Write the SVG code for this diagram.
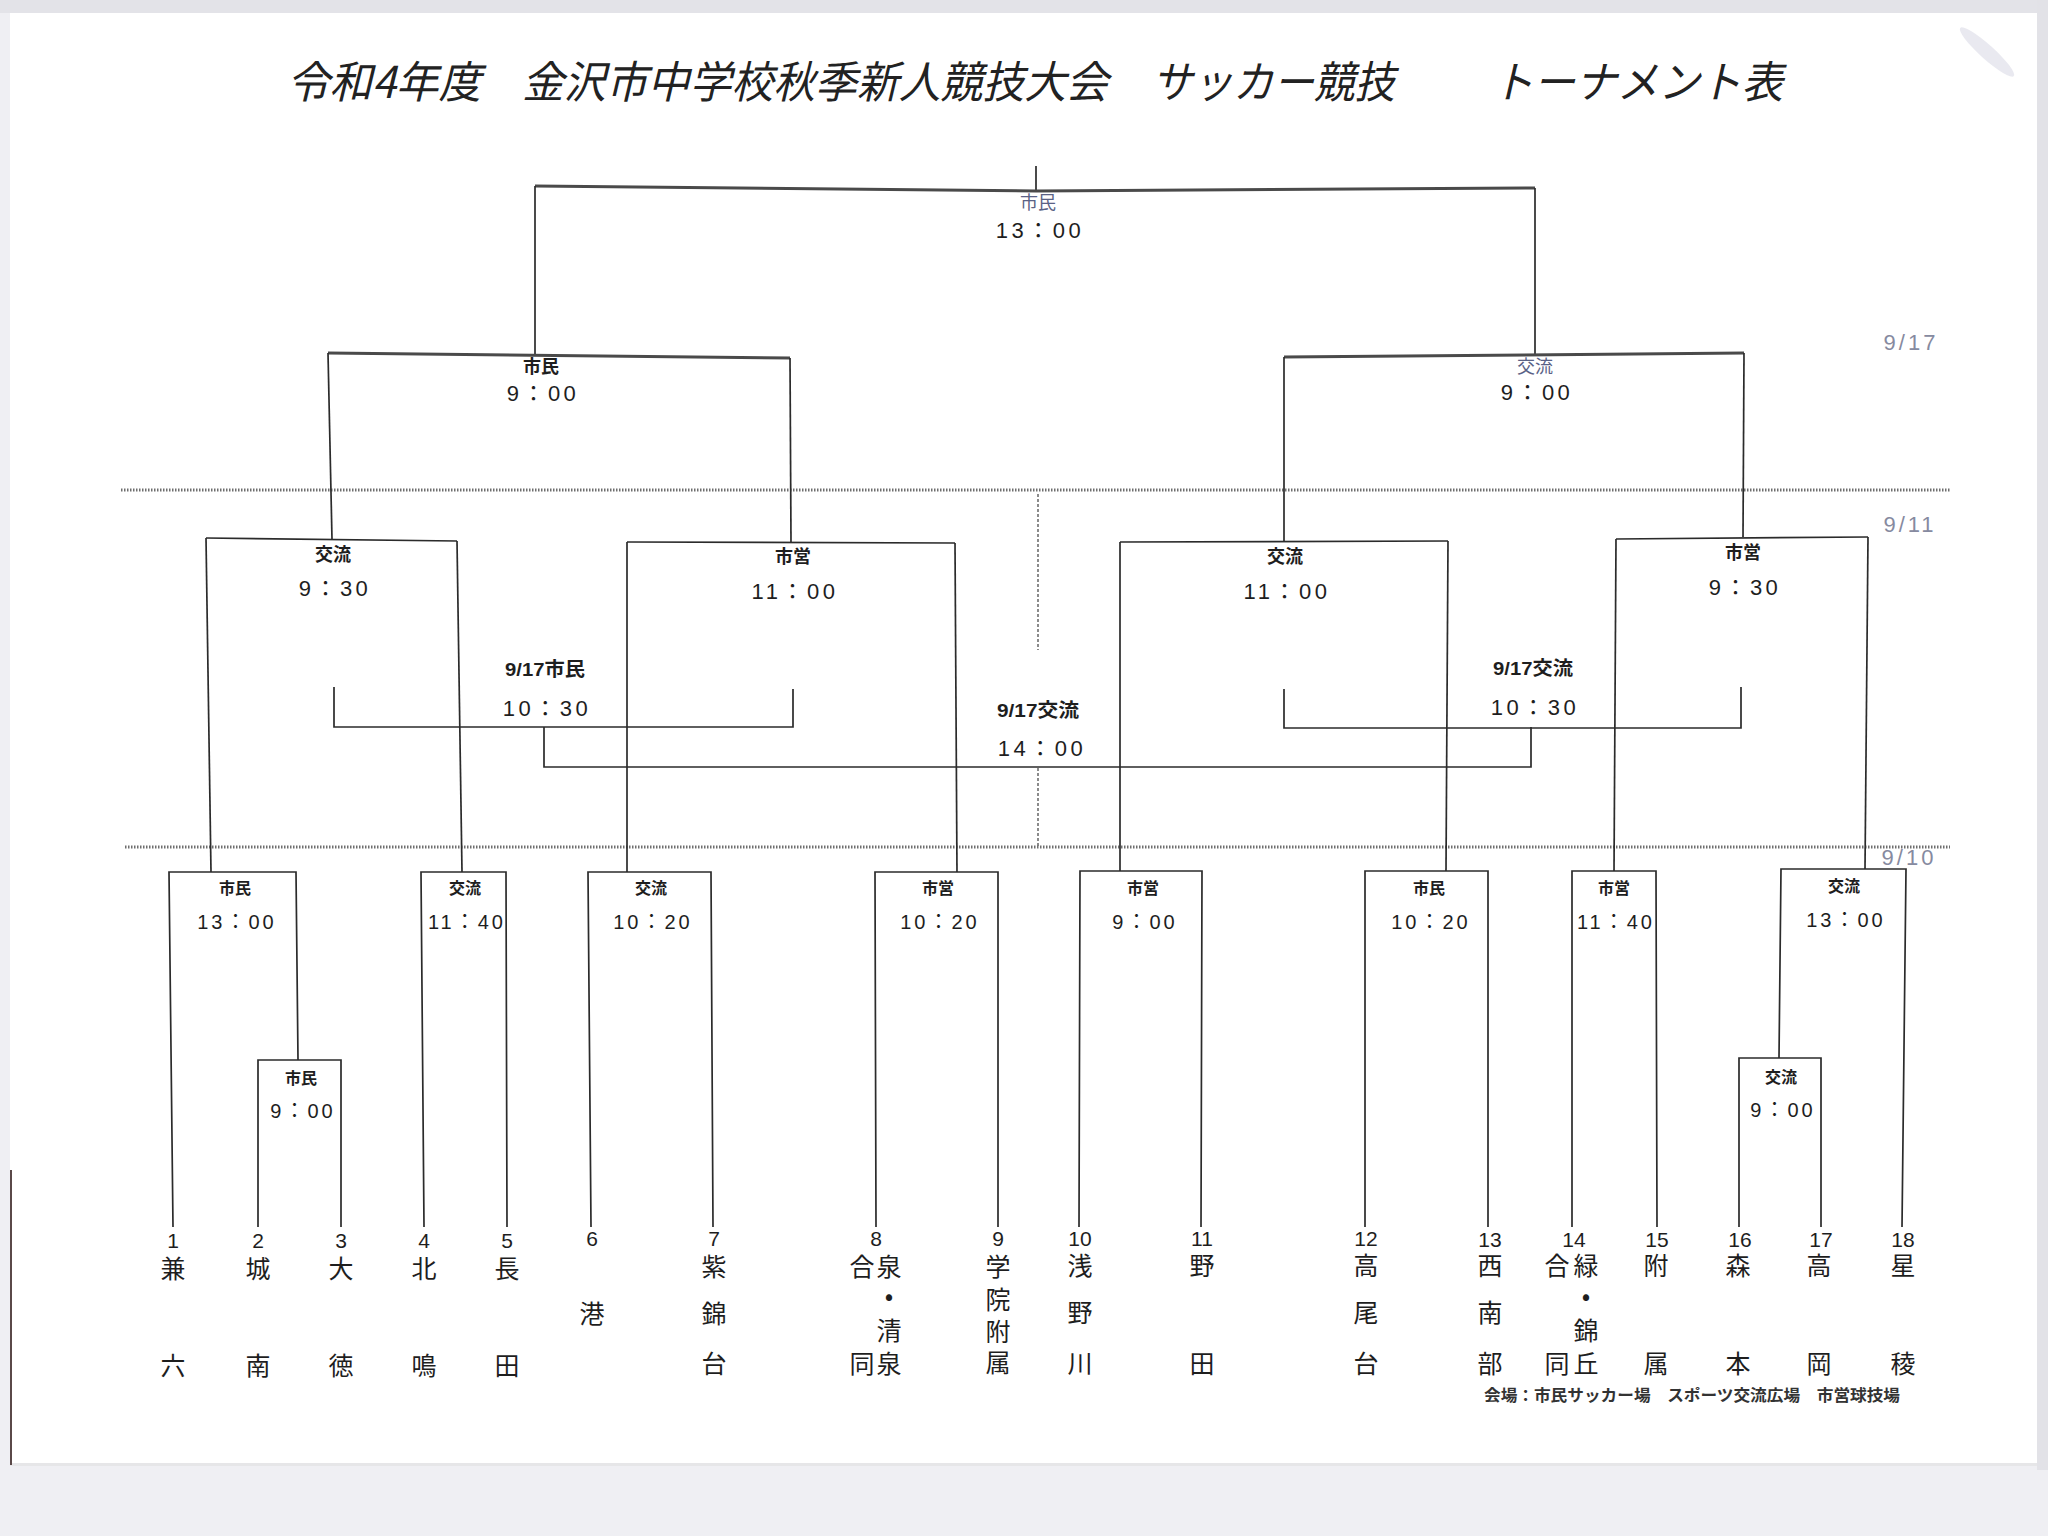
<svg xmlns="http://www.w3.org/2000/svg" width="2048" height="1536" viewBox="0 0 2048 1536">
<defs>
<style>
.ln{fill:none;stroke:#2b2b2b;stroke-width:1.7;stroke-linejoin:miter}
.hv{fill:none;stroke:#4a4a4a;stroke-width:3}
.dot{fill:none;stroke:#6e6e6e;stroke-width:3;stroke-dasharray:1.5 1.5}
.vd{fill:none;stroke:#666;stroke-width:1.5;stroke-dasharray:3 2}
text{font-family:"Liberation Sans","Noto Sans CJK JP",sans-serif;fill:#1e1e1e}
.ttl{font-family:"Noto Sans CJK JP",sans-serif;font-size:44px;font-style:italic;fill:#222}
.v1{font-family:"Noto Sans CJK JP",sans-serif;font-size:16px;font-weight:bold;text-anchor:middle}
.v2{font-family:"Noto Sans CJK JP",sans-serif;font-size:18px;font-weight:bold;text-anchor:middle}
.vb{fill:#5a6286;font-weight:normal}
.t1{font-size:20px;letter-spacing:3px;text-anchor:middle}
.t2{font-size:22px;letter-spacing:3.5px;text-anchor:middle}
.cs{font-family:"Liberation Sans","Noto Sans CJK JP",sans-serif;font-size:19px;font-weight:bold;text-anchor:middle}
.dt{font-size:22px;letter-spacing:3px;fill:#868aa0;text-anchor:middle}
.num{font-size:21px;text-anchor:middle}
.nm{font-family:"Noto Sans CJK JP",sans-serif;font-size:25px;text-anchor:middle}
.ft{font-family:"Noto Sans CJK JP",sans-serif;font-size:16px;font-weight:bold;fill:#333}
</style>
</defs>
<rect x="0" y="0" width="2048" height="1536" fill="#efeff3"/>
<rect x="0" y="0" width="2048" height="13" fill="#e3e3e8"/>
<rect x="2037" y="0" width="11" height="1470" fill="#e2e2e7"/>
<rect x="10" y="13" width="2027" height="1452" fill="#ffffff"/>
<rect x="10" y="1463" width="2027" height="3" fill="#e6e6e8"/>
<line x1="11" y1="1170" x2="11" y2="1465" stroke="#5a4848" stroke-width="2"/>
<ellipse cx="1987" cy="52" rx="36" ry="7" transform="rotate(42 1987 52)" fill="#e4e4ec" opacity="0.8"/>

<g id="title">
<text class="ttl" x="287" y="98" textLength="194" lengthAdjust="spacingAndGlyphs">令和4年度</text>
<text class="ttl" x="522" y="98" textLength="586" lengthAdjust="spacingAndGlyphs">金沢市中学校秋季新人競技大会</text>
<text class="ttl" x="1152" y="98" textLength="243" lengthAdjust="spacingAndGlyphs">サッカー競技</text>
<text class="ttl" x="1492" y="98" textLength="291" lengthAdjust="spacingAndGlyphs">トーナメント表</text>
</g>

<g id="dates">
<text class="dt" x="1911" y="350">9/17</text>
<text class="dt" x="1910" y="532">9/11</text>
<text class="dt" x="1909" y="865">9/10</text>
</g>

<g id="connectors">
<path class="dot" d="M121,490 H1950"/>
<path class="dot" d="M125,847 H1950"/>
<path class="vd" d="M1038,494 V650"/>
<path class="vd" d="M1038,768 V847"/>
<path class="ln" d="M1036,166 V190"/>
<path class="hv" d="M535,186 L1036,191 L1535,188"/>
<path class="ln" d="M535,186 V355"/>
<path class="ln" d="M1535,188 V355"/>
<path class="hv" d="M328,353 L790,358"/>
<path class="ln" d="M328,353 L332,539"/>
<path class="ln" d="M790,358 L791,542"/>
<path class="hv" d="M1284,357 L1744,353"/>
<path class="ln" d="M1284,357 V542"/>
<path class="ln" d="M1744,353 L1743,537"/>
<path class="ln" d="M206,538 L457,541"/>
<path class="ln" d="M206,538 L211,872"/>
<path class="ln" d="M457,541 L462,872"/>
<path class="ln" d="M627,542 L955,543"/>
<path class="ln" d="M627,542 V872"/>
<path class="ln" d="M955,543 L957,872"/>
<path class="ln" d="M1120,542 L1448,541"/>
<path class="ln" d="M1120,542 V871"/>
<path class="ln" d="M1448,541 L1446,871"/>
<path class="ln" d="M1616,539 L1868,537"/>
<path class="ln" d="M1616,539 L1614,871"/>
<path class="ln" d="M1868,537 L1865,869"/>
<path class="ln" d="M334,687 V727 H793 V689"/>
<path class="ln" d="M544,727 V767 H1531 V727"/>
<path class="ln" d="M1284,689 V728 H1741 V687"/>
<path class="ln" d="M173,1227 L169,872 H296 L298,1060"/>
<path class="ln" d="M258,1227 V1060 H341 V1227"/>
<path class="ln" d="M424,1227 L421,872 H506 L507,1227"/>
<path class="ln" d="M591,1227 L588,872 H711 L713,1227"/>
<path class="ln" d="M876,1227 L875,872 H998 V1227"/>
<path class="ln" d="M1079,1227 L1080,871 H1202 L1201,1227"/>
<path class="ln" d="M1365,1227 V871 H1488 V1227"/>
<path class="ln" d="M1572,1227 V871 H1656 L1657,1227"/>
<path class="ln" d="M1779,1058 L1781,869 H1906 L1902,1227"/>
<path class="ln" d="M1739,1227 V1058 H1821 V1227"/>
</g>

<g id="m-final"><text class="v2 vb" x="1038" y="209">市民</text><text class="t2" x="1040" y="238">13：00</text></g>
<g id="m-sf1"><text class="v2" x="541" y="373">市民</text><text class="t2" x="543" y="401">9：00</text></g>
<g id="m-sf2"><text class="v2 vb" x="1535" y="373">交流</text><text class="t2" x="1537" y="400">9：00</text></g>
<g id="m-qf1"><text class="v2" x="333" y="561">交流</text><text class="t2" x="335" y="596">9：30</text></g>
<g id="m-qf2"><text class="v2" x="793" y="563">市営</text><text class="t2" x="795" y="599">11：00</text></g>
<g id="m-qf3"><text class="v2" x="1285" y="563">交流</text><text class="t2" x="1287" y="599">11：00</text></g>
<g id="m-qf4"><text class="v2" x="1743" y="559">市営</text><text class="t2" x="1745" y="595">9：30</text></g>
<g id="m-c1"><text class="cs" x="545" y="676" textLength="80" lengthAdjust="spacingAndGlyphs">9/17市民</text><text class="t2" x="547" y="716">10：30</text></g>
<g id="m-c2"><text class="cs" x="1533" y="675" textLength="80" lengthAdjust="spacingAndGlyphs">9/17交流</text><text class="t2" x="1535" y="715">10：30</text></g>
<g id="m-c3"><text class="cs" x="1038" y="717" textLength="82" lengthAdjust="spacingAndGlyphs">9/17交流</text><text class="t2" x="1042" y="756">14：00</text></g>
<g id="m-r1a"><text class="v1" x="235" y="894">市民</text><text class="t1" x="237" y="929">13：00</text></g>
<g id="m-r1b"><text class="v1" x="301" y="1084">市民</text><text class="t1" x="303" y="1118">9：00</text></g>
<g id="m-r1c"><text class="v1" x="465" y="894">交流</text><text class="t1" x="467" y="929">11：40</text></g>
<g id="m-r1d"><text class="v1" x="651" y="894">交流</text><text class="t1" x="653" y="929">10：20</text></g>
<g id="m-r1e"><text class="v1" x="938" y="894">市営</text><text class="t1" x="940" y="929">10：20</text></g>
<g id="m-r1f"><text class="v1" x="1143" y="894">市営</text><text class="t1" x="1145" y="929">9：00</text></g>
<g id="m-r1g"><text class="v1" x="1429" y="894">市民</text><text class="t1" x="1431" y="929">10：20</text></g>
<g id="m-r1h"><text class="v1" x="1614" y="894">市営</text><text class="t1" x="1616" y="929">11：40</text></g>
<g id="m-r1i"><text class="v1" x="1844" y="892">交流</text><text class="t1" x="1846" y="927">13：00</text></g>
<g id="m-r1j"><text class="v1" x="1781" y="1083">交流</text><text class="t1" x="1783" y="1117">9：00</text></g>

<g id="team1"><text class="num" x="173" y="1248">1</text><text class="nm" x="173" y="1278">兼</text><text class="nm" x="173" y="1375">六</text></g>
<g id="team2"><text class="num" x="258" y="1248">2</text><text class="nm" x="258" y="1278">城</text><text class="nm" x="258" y="1375">南</text></g>
<g id="team3"><text class="num" x="341" y="1248">3</text><text class="nm" x="341" y="1278">大</text><text class="nm" x="341" y="1375">徳</text></g>
<g id="team4"><text class="num" x="424" y="1248">4</text><text class="nm" x="424" y="1278">北</text><text class="nm" x="424" y="1375">鳴</text></g>
<g id="team5"><text class="num" x="507" y="1248">5</text><text class="nm" x="507" y="1278">長</text><text class="nm" x="507" y="1375">田</text></g>
<g id="team6"><text class="num" x="592" y="1246">6</text><text class="nm" x="592" y="1323">港</text></g>
<g id="team7"><text class="num" x="714" y="1246">7</text><text class="nm" x="714" y="1276">紫</text><text class="nm" x="714" y="1323">錦</text><text class="nm" x="714" y="1373">台</text></g>
<g id="team8"><text class="num" x="876" y="1246">8</text><text class="nm" x="862" y="1276">合</text><text class="nm" x="889" y="1276">泉</text><text class="nm" x="889" y="1305">•</text><text class="nm" x="889" y="1340">清</text><text class="nm" x="862" y="1373">同</text><text class="nm" x="889" y="1373">泉</text></g>
<g id="team9"><text class="num" x="998" y="1246">9</text><text class="nm" x="998" y="1276">学</text><text class="nm" x="998" y="1309">院</text><text class="nm" x="998" y="1341">附</text><text class="nm" x="998" y="1372">属</text></g>
<g id="team10"><text class="num" x="1080" y="1246">10</text><text class="nm" x="1080" y="1275">浅</text><text class="nm" x="1080" y="1322">野</text><text class="nm" x="1080" y="1373">川</text></g>
<g id="team11"><text class="num" x="1202" y="1246">11</text><text class="nm" x="1202" y="1275">野</text><text class="nm" x="1202" y="1373">田</text></g>
<g id="team12"><text class="num" x="1366" y="1246">12</text><text class="nm" x="1366" y="1275">高</text><text class="nm" x="1366" y="1322">尾</text><text class="nm" x="1366" y="1373">台</text></g>
<g id="team13"><text class="num" x="1490" y="1247">13</text><text class="nm" x="1490" y="1275">西</text><text class="nm" x="1490" y="1322">南</text><text class="nm" x="1490" y="1373">部</text></g>
<g id="team14"><text class="num" x="1574" y="1247">14</text><text class="nm" x="1557" y="1275">合</text><text class="nm" x="1586" y="1275">緑</text><text class="nm" x="1586" y="1305">•</text><text class="nm" x="1586" y="1340">錦</text><text class="nm" x="1557" y="1373">同</text><text class="nm" x="1586" y="1373">丘</text></g>
<g id="team15"><text class="num" x="1657" y="1247">15</text><text class="nm" x="1656" y="1275">附</text><text class="nm" x="1656" y="1373">属</text></g>
<g id="team16"><text class="num" x="1740" y="1247">16</text><text class="nm" x="1738" y="1275">森</text><text class="nm" x="1738" y="1373">本</text></g>
<g id="team17"><text class="num" x="1821" y="1247">17</text><text class="nm" x="1819" y="1275">高</text><text class="nm" x="1819" y="1373">岡</text></g>
<g id="team18"><text class="num" x="1903" y="1247">18</text><text class="nm" x="1903" y="1275">星</text><text class="nm" x="1903" y="1373">稜</text></g>

<g id="footer"><text class="ft" x="1484" y="1401" textLength="416" lengthAdjust="spacingAndGlyphs">会場：市民サッカー場　スポーツ交流広場　市営球技場</text></g>
</svg>
